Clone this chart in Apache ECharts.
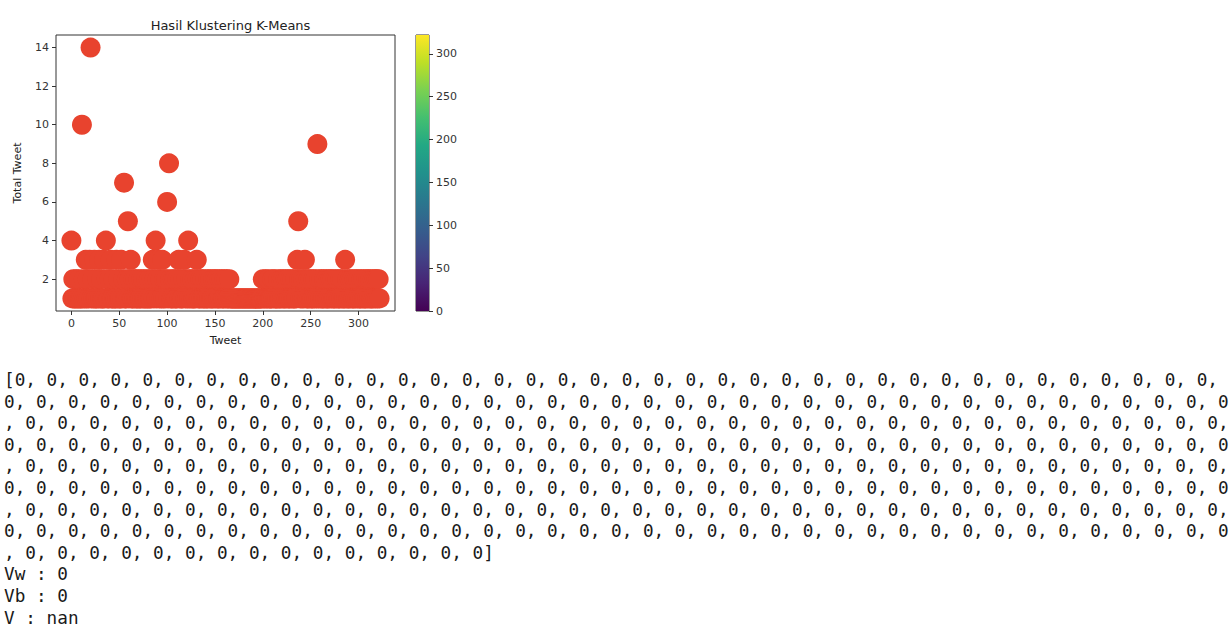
<!DOCTYPE html>
<html>
<head>
<meta charset="utf-8">
<script src="https://cdn.jsdelivr.net/npm/echarts@6/dist/echarts.min.js"></script>
<style>
  html, body { margin: 0; padding: 0; background: #fff; }
  #chart { width: 1231px; height: 628px; }
</style>
</head>
<body>
<div id="chart"></div>
<script>
// total tweets per user, x is the row index (0..322)
const totalTweet = [
  4, 1, 2, 1, 1, 2, 1, 1, 2, 1, 1, 10, 1, 2, 1, 3, 1, 2, 1, 3,
  14, 1, 2, 1, 3, 1, 1, 2, 1, 3, 1, 2, 1, 1, 3, 1, 4, 2, 1, 1,
  2, 3, 1, 1, 2, 1, 1, 3, 1, 2, 1, 1, 3, 1, 2, 7, 1, 1, 2, 5,
  1, 2, 3, 1, 1, 2, 1, 2, 1, 1, 2, 1, 1, 2, 1, 2, 1, 1, 2, 1,
  1, 2, 1, 1, 2, 3, 1, 2, 4, 1, 2, 3, 1, 2, 1, 3, 1, 2, 1, 2,
  6, 1, 8, 2, 1, 1, 2, 1, 2, 1, 1, 2, 3, 1, 2, 1, 1, 2, 3, 1,
  2, 1, 4, 1, 2, 1, 2, 1, 1, 2, 1, 3, 2, 1, 1, 2, 1, 2, 1, 1,
  2, 1, 1, 2, 1, 2, 1, 1, 2, 1, 2, 1, 2, 1, 1, 2, 1, 2, 1, 1,
  2, 1, 2, 1, 1, 2, 1, 1, 1, 1, 1, 1, 1, 1, 1, 1, 1, 1, 1, 1,
  1, 1, 1, 1, 1, 1, 1, 1, 1, 1, 1, 1, 1, 1, 1, 1, 1, 1, 1, 1,
  2, 1, 1, 2, 1, 1, 2, 1, 1, 1, 2, 1, 2, 1, 1, 1, 2, 1, 1, 2,
  1, 2, 1, 1, 2, 1, 2, 1, 1, 2, 1, 2, 1, 1, 2, 1, 3, 5, 2, 1,
  2, 1, 2, 1, 3, 2, 1, 1, 2, 1, 2, 1, 1, 2, 1, 2, 1, 9, 1, 2,
  1, 2, 1, 1, 2, 1, 2, 1, 1, 2, 1, 2, 1, 2, 1, 1, 2, 1, 2, 1,
  1, 2, 1, 2, 1, 1, 3, 1, 2, 1, 1, 2, 1, 2, 1, 1, 2, 1, 2, 1,
  2, 1, 1, 2, 1, 2, 1, 1, 2, 1, 2, 1, 2, 1, 1, 2, 1, 2, 1, 2,
  1, 2, 1
];

const xTicks = [0, 50, 100, 150, 200, 250, 300];
const yTicks = [2, 4, 6, 8, 10, 12, 14];
const cbTicks = [0, 50, 100, 150, 200, 250, 300];

// k-means output: every point ended up in cluster 0
const clusterLabels = totalTweet.map(() => 0);
const scoreLines = ['Vw : 0', 'Vb : 0', 'V : nan'];

const viridis = ['#440154', '#482475', '#414487', '#355f8d', '#2a788e',
  '#21918c', '#22a884', '#44bf70', '#7ad151', '#bddf26', '#fde725'];

const axisColor = '#333';
const monoFont = '"DejaVu Sans Mono", "Liberation Mono", monospace';

// wrap the printed list the way the notebook output does
function wrapText(s, width) {
  let lines = [];
  let i = 0;
  while (i < s.length) {
    lines.push(s.slice(i, i + width));
    i += width;
    if (s[i] === ' ') i++;
  }
  return lines;
}

function buildConsole() {
  let printed = '[' + clusterLabels.join(', ') + ']';
  let lines = wrapText(printed, 115).concat(scoreLines);
  return lines.map((line, i) => ({
    type: 'text',
    left: 4,
    top: 371 + i * 21.6,
    silent: true,
    style: {
      text: line,
      font: '17.7px ' + monoFont,
      fill: '#1a1a1a'
    }
  }));
}

function initChart() {
  let chart = echarts.init(document.getElementById('chart'), null, { renderer: 'svg' });
  let points = totalTweet.map((v, i) => [i, v]);
  let cbMax = totalTweet.length - 1;

  let gradient = new echarts.graphic.LinearGradient(0, 0, 0, 1,
    viridis.slice().reverse().map((c, i) => ({ offset: i / (viridis.length - 1), color: c })));

  let tickLabel = { margin: 7, fontFamily: 'DejaVu Sans', fontSize: 11, color: axisColor };

  let options = {
    animation: false,
    backgroundColor: '#fff',
    title: {
      text: 'Hasil Klustering K-Means',
      left: 225.5,
      top: 14,
      textAlign: 'center',
      textStyle: { fontFamily: 'DejaVu Sans', fontSize: 13, fontWeight: 'normal', color: '#222' }
    },
    grid: [
      { left: 56, top: 35, width: 339, height: 276, show: true, borderColor: axisColor, borderWidth: 1, backgroundColor: 'transparent' },
      { left: 416, top: 35, width: 13, height: 276, show: true, borderColor: axisColor, borderWidth: 1, backgroundColor: 'transparent' }
    ],
    xAxis: [{
      gridIndex: 0,
      type: 'value',
      min: -16.1,
      max: 338.1,
      name: 'Tweet',
      nameLocation: 'middle',
      nameGap: 24,
      nameTextStyle: { fontFamily: 'DejaVu Sans', fontSize: 11, color: '#222' },
      splitLine: { show: false },
      axisLine: { show: false, onZero: false },
      axisTick: { show: true, length: 4, customValues: xTicks, lineStyle: { color: axisColor } },
      axisLabel: Object.assign({ customValues: xTicks }, tickLabel)
    }, {
      gridIndex: 1,
      type: 'category',
      data: ['cb'],
      show: false
    }],
    yAxis: [{
      gridIndex: 0,
      type: 'value',
      min: 0.35,
      max: 14.65,
      name: 'Total Tweet',
      nameLocation: 'middle',
      nameGap: 33,
      nameTextStyle: { fontFamily: 'DejaVu Sans', fontSize: 11, color: '#222' },
      splitLine: { show: false },
      axisLine: { show: false, onZero: false },
      axisTick: { show: true, length: 4, customValues: yTicks, lineStyle: { color: axisColor } },
      axisLabel: Object.assign({ customValues: yTicks }, tickLabel)
    }, {
      gridIndex: 1,
      type: 'value',
      position: 'right',
      min: 0,
      max: cbMax,
      splitLine: { show: false },
      axisLine: { show: false, onZero: false },
      axisTick: { show: true, length: 4, customValues: cbTicks, lineStyle: { color: axisColor } },
      axisLabel: Object.assign({ customValues: cbTicks }, tickLabel)
    }],
    series: [{
      type: 'scatter',
      xAxisIndex: 0,
      yAxisIndex: 0,
      symbol: 'circle',
      symbolSize: 20,
      data: points,
      itemStyle: { color: '#e8432e', opacity: 1 },
      silent: true
    }, {
      type: 'bar',
      xAxisIndex: 1,
      yAxisIndex: 1,
      data: [cbMax],
      barWidth: '100%',
      itemStyle: { color: gradient },
      silent: true
    }],
    graphic: buildConsole()
  };

  chart.setOption(options);
}

initChart();
</script>
</body>
</html>
